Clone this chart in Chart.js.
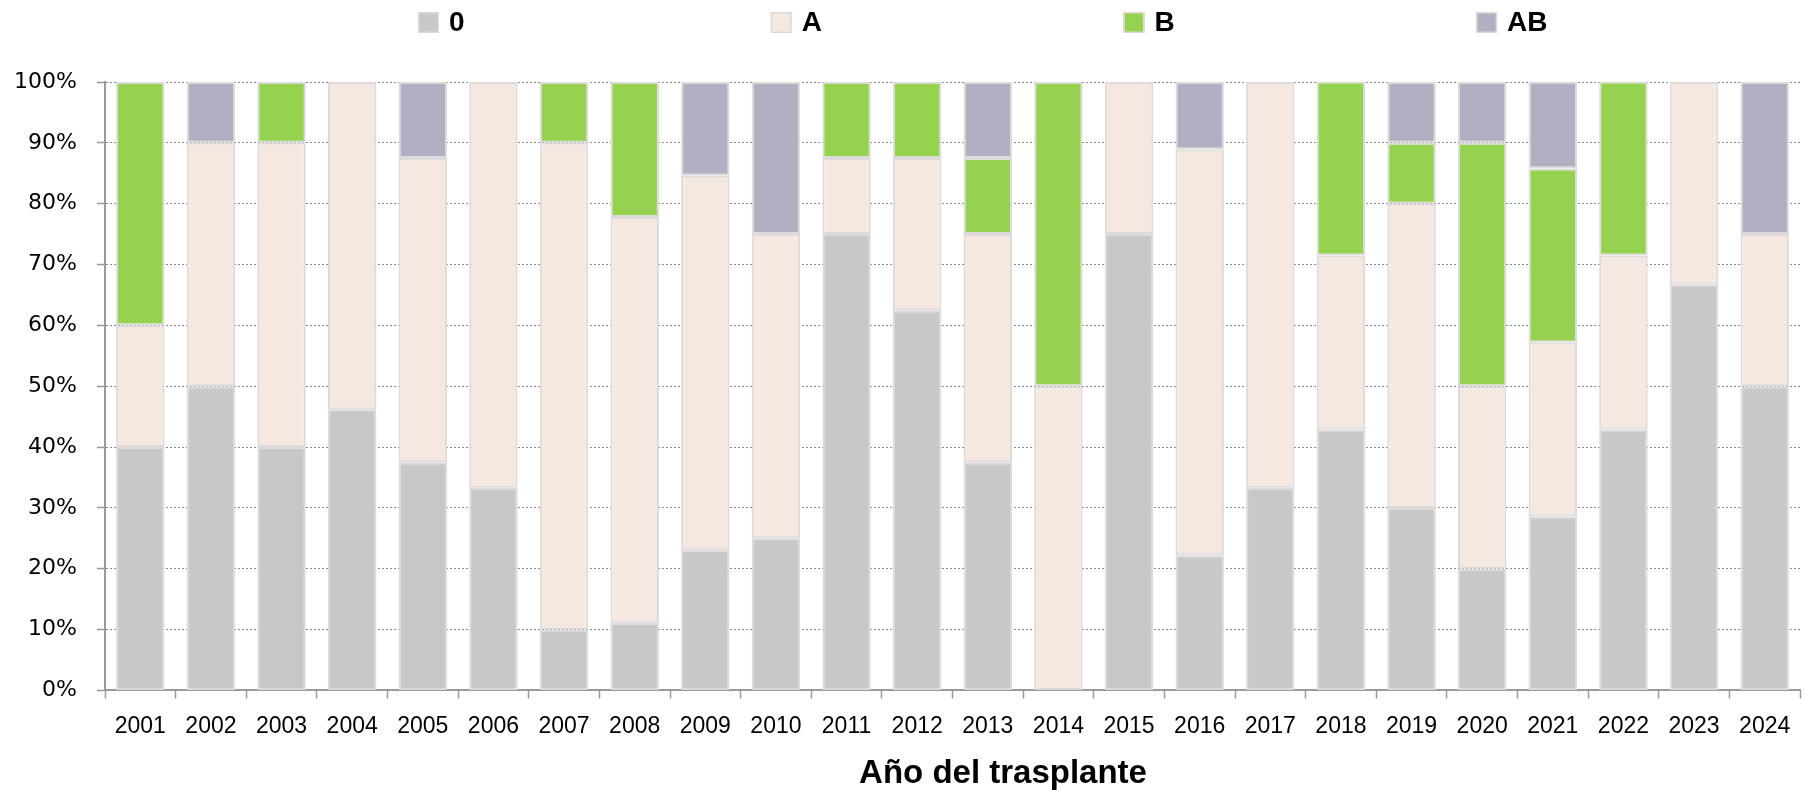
<!DOCTYPE html>
<html>
<head>
<meta charset="utf-8">
<script src="https://cdn.jsdelivr.net/npm/chart.js@4"></script>
<style>
  html, body { margin: 0; padding: 0; background: #fff; }
  #wrap { width: 1806px; height: 790px; }
</style>
</head>
<body>
<div id="wrap"><canvas id="grupo-chart"></canvas></div>
<script>
// Distribución del grupo sanguíneo por año del trasplante (%)
const years = ['2001', '2002', '2003', '2004', '2005', '2006', '2007', '2008',
    '2009', '2010', '2011', '2012', '2013', '2014', '2015', '2016',
    '2017', '2018', '2019', '2020', '2021', '2022', '2023', '2024'];

const grupo0 = [40, 50, 40, 46.2, 37.5, 33.3, 10, 11.1, 23.1, 25, 75, 62.5,
    37.5, 0, 75, 22.2, 33.3, 42.9, 30, 20, 28.6, 42.9, 66.7, 50];
const grupoA = [20, 40, 50, 53.8, 50, 66.7, 80, 66.7, 61.5, 50, 12.5, 25,
    37.5, 50, 25, 66.7, 66.7, 28.6, 50, 30, 28.6, 28.6, 33.3, 25];
const grupoB = [40, 0, 10, 0, 0, 0, 10, 22.2, 0, 0, 12.5, 12.5,
    12.5, 50, 0, 0, 0, 28.6, 10, 40, 28.6, 28.6, 0, 0];
const grupoAB = [0, 10, 0, 0, 12.5, 0, 0, 0, 15.4, 25, 0, 0,
    12.5, 0, 0, 11.1, 0, 0, 10, 10, 14.3, 0, 0, 25];

const yTicks = [0, 10, 20, 30, 40, 50, 60, 70, 80, 90, 100];
const xTitle = 'Año del trasplante';

const colors = {
    '0': '#c8c8c8',
    'A': '#f5e8e0',
    'B': '#95d250',
    'AB': '#b1b0c2'
};
const edge = '#dedada';

// legend in one row with wide, even spacing, and the axis title a bit right
// of centre, both the way the original lays them out
const excelLayout = {
    id: 'excelLayout',
    afterDraw(chart, args, opts) {
        const ctx = chart.ctx;
        ctx.save();
        ctx.textBaseline = 'middle';
        ctx.textAlign = 'left';
        chart.data.datasets.forEach((ds, i) => {
            const x = opts.start + i * opts.step;
            ctx.fillStyle = ds.backgroundColor;
            ctx.fillRect(x, opts.top, opts.box, opts.box);
            ctx.strokeStyle = edge;
            ctx.lineWidth = 1.5;
            ctx.strokeRect(x + 0.75, opts.top + 0.75, opts.box - 1.5, opts.box - 1.5);
            ctx.fillStyle = '#000';
            ctx.font = 'bold 28px "Liberation Sans", Arial, sans-serif';
            ctx.fillText(ds.label, x + opts.box + 10, opts.top + opts.box / 2 + 1);
        });
        ctx.textAlign = 'center';
        ctx.textBaseline = 'alphabetic';
        ctx.font = 'bold 33px "Liberation Sans", Arial, sans-serif';
        ctx.fillText(opts.title, opts.titleX, opts.titleY);
        ctx.restore();
    }
};

const makeSet = (label, data) => ({
    label: label,
    data: data,
    backgroundColor: colors[label],
    borderColor: edge,
    borderWidth: 2,
    borderSkipped: false,
    barPercentage: 0.686,
    categoryPercentage: 1
});

new Chart(document.getElementById('grupo-chart'), {
    type: 'bar',
    data: {
        labels: years,
        datasets: [
            makeSet('0', grupo0),
            makeSet('A', grupoA),
            makeSet('B', grupoB),
            makeSet('AB', grupoAB)
        ]
    },
    plugins: [excelLayout],
    options: {
        responsive: true,
        maintainAspectRatio: false,
        animation: false,
        layout: {
            padding: { top: 82, right: 6, bottom: 36, left: 0 }
        },
        plugins: {
            legend: { display: false },
            tooltip: { enabled: false },
            excelLayout: {
                start: 418, step: 352.7, top: 12, box: 21,
                title: xTitle, titleX: 1003, titleY: 783
            }
        },
        scales: {
            x: {
                stacked: true,
                grid: {
                    offset: true,
                    drawOnChartArea: false,
                    drawTicks: true,
                    tickLength: 8,
                    tickColor: '#9a9a9a',
                    tickWidth: 1.5
                },
                border: { display: true, color: '#9a9a9a', width: 2 },
                ticks: {
                    color: '#000',
                    padding: 14,
                    maxRotation: 0,
                    font: { family: '"Liberation Sans", Arial, sans-serif', size: 23 }
                }
            },
            y: {
                stacked: true,
                min: 0,
                max: 100,
                afterFit(scale) { scale.width = 105; },
                afterBuildTicks(scale) {
                    scale.ticks = yTicks.map(v => ({ value: v }));
                },
                grid: {
                    color: '#8a8a8a',
                    lineWidth: 1,
                    drawTicks: true,
                    tickLength: 8,
                    tickColor: '#9a9a9a',
                    tickWidth: 1.5,
                    tickBorderDash: []
                },
                border: { display: true, color: '#9a9a9a', width: 2, dash: [2, 2] },
                ticks: {
                    color: '#000',
                    padding: 20,
                    font: { family: '"DejaVu Sans", Verdana, sans-serif', size: 22 },
                    callback: v => v + '%'
                }
            }
        }
    }
});
</script>
</body>
</html>
